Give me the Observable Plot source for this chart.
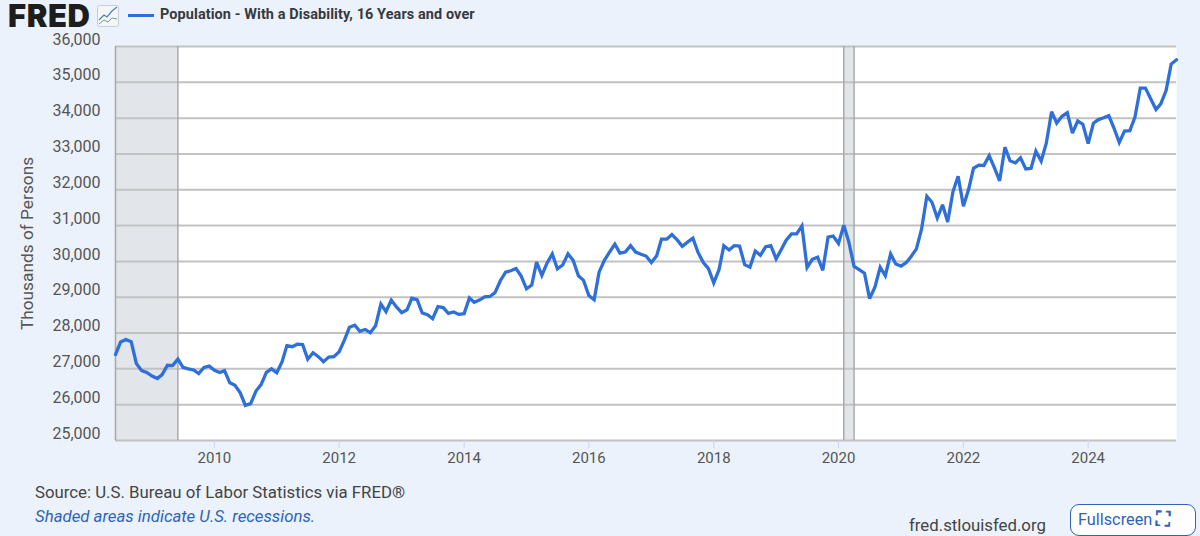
<!DOCTYPE html>
<html>
<head>
<meta charset="utf-8">
<script src="https://cdn.jsdelivr.net/npm/d3@7"></script>
<script src="https://cdn.jsdelivr.net/npm/@observablehq/plot@0.6"></script>
<style>
html,body{margin:0;padding:0;background:#ebf2fb;width:1200px;height:536px;overflow:hidden;font-family:Roboto,sans-serif}
#page{position:relative;width:1200px;height:536px}
#chart{position:absolute;left:0;top:30px}
#chart svg{display:block;background:transparent}
.abs{position:absolute;white-space:nowrap}
#logo{left:8px;top:2px;font:900 31px/28px Inter,Roboto,sans-serif;color:#1d1d1d;letter-spacing:.6px}
#icon{left:97px;top:5px;width:22px;height:22px}
#swatch{left:128px;top:14px;width:26px;height:3px;background:#2e6fd9}
#legend{left:160px;top:6px;font:700 14.45px/18px Roboto,sans-serif;color:#36393f;letter-spacing:.1px}
#source{left:35px;top:482px;font:400 16.8px/20px Roboto,sans-serif;color:#444}
#note{left:35px;top:506px;font:italic 400 16.8px/20px Roboto,sans-serif;color:#2f63b8}
#site{left:909px;top:515px;font:400 16.8px/20px Roboto,sans-serif;color:#444}
#full{left:1070px;top:504px;width:126px;height:32px;box-sizing:border-box;border:1.5px solid #2f63b8;border-radius:9px;background:#fff;color:#2f63b8;font:400 16.3px/29px Roboto,sans-serif;padding-left:7px}
</style>
</head>
<body>
<div id="page">
  <div id="chart"></div>
  <div class="abs" id="logo">FRED</div>
  <svg class="abs" id="icon" viewBox="0 0 22 22"><rect x=".5" y=".5" width="21" height="21" rx="2" fill="#f4f6fa" stroke="#c9ccd2"/><polyline points="2,15 7,10 10,12 15,6 20,2" fill="none" stroke="#4f7fc9" stroke-width="1.2"/><polyline points="2,19 7,15 11,17 15,13 20,14" fill="none" stroke="#6fa08c" stroke-width="1"/></svg>
  <div class="abs" id="swatch"></div>
  <div class="abs" id="legend">Population - With a Disability, 16 Years and over</div>
  <div class="abs" id="source">Source: U.S. Bureau of Labor Statistics via FRED®</div>
  <div class="abs" id="note">Shaded areas indicate U.S. recessions.</div>
  <div class="abs" id="site">fred.stlouisfed.org</div>
  <div class="abs" id="full">Fullscreen <span style="font-size:20px;font-weight:700;vertical-align:-1px;line-height:20px">⛶</span></div>
</div>
<script>
const firstMonth = "2008-06-01";
const lastMonth = "2025-06-01";
const seriesValues = [
27400,27750,27820,27760,27150,26950,26900,26800,26730,26840,
27100,27090,27270,27040,27000,26970,26870,27040,27080,26960,
26900,26950,26610,26540,26330,25980,26030,26380,26560,26900,
27000,26890,27200,27650,27620,27690,27680,27270,27450,27340,
27200,27330,27340,27480,27810,28160,28220,28050,28100,28010,
28200,28810,28600,28920,28730,28570,28650,28970,28930,28560,
28510,28400,28740,28710,28550,28590,28520,28540,28980,28860,
28920,29010,29020,29130,29460,29700,29740,29800,29590,29235,
29340,29980,29610,29950,30210,29790,29900,30210,30030,29600,
29470,29050,28930,29700,30030,30260,30480,30230,30260,30440,
30260,30200,30150,29970,30160,30620,30620,30750,30600,30420,
30540,30650,30250,29970,29800,29400,29770,30440,30320,30440,
30430,29910,29840,30290,30170,30410,30440,30070,30340,30590,
30770,30770,30990,29830,30060,30120,29750,30680,30710,30500,
31010,30550,29860,29770,29670,28960,29280,29840,29600,30210,
29930,29870,29970,30140,30350,30900,31820,31650,31210,31580,
31100,31950,32380,31540,32020,32600,32690,32680,32950,32620,
32250,33190,32810,32750,32890,32580,32600,33080,32800,33300,
34180,33860,34050,34150,33580,33920,33830,33290,33860,33960,
34010,34070,33710,33320,33640,33650,34030,34840,34840,34540,
34240,34400,34770,35510,35630];
const recessionStarts = ["2007-12-01","2020-02-01"];
const recessionEnds = ["2009-06-01","2020-04-01"];
const yTicks = [25000,26000,27000,28000,29000,30000,31000,32000,33000,34000,35000,36000];
const xTickYears = [2010,2012,2014,2016,2018,2020,2022,2024];

const start = new Date(firstMonth + "T00:00Z");
const end = new Date(lastMonth + "T00:00Z");
const rows = seriesValues.map((v,i)=>({date:d3.utcMonth.offset(start,i),value:v}));
const recessions = recessionStarts.map((s,i)=>({
  x1:new Date(s+"T00:00Z"), x2:new Date(recessionEnds[i]+"T00:00Z")
}));
const edges = [start, ...recessions.flatMap(r=>r.x1<start?[r.x2]:[r.x1,r.x2])];
const xTicks = xTickYears.map(y=>new Date(Date.UTC(y,0,1)));

const chart = Plot.plot({
  width:1200, height:440,
  marginLeft:115, marginRight:24, marginTop:16, marginBottom:30,
  style:{background:"transparent",color:"#555",fontFamily:"Roboto,sans-serif",fontSize:"16px",overflow:"visible"},
  x:{type:"utc",domain:[start,end]},
  y:{domain:[25000,36000]},
  marks:[
    Plot.frame({fill:"#fff",stroke:null}),
    Plot.rectX(recessions,{x1:"x1",x2:"x2",y1:25000,y2:36000,fill:"#e2e5e9",clip:true}),
    Plot.ruleY(yTicks,{stroke:"#c2c2c2",strokeWidth:2}),
    Plot.ruleX(edges,{stroke:"#a9a9a9",strokeWidth:1.5}),
    Plot.axisX({ticks:xTicks,tickFormat:d3.utcFormat("%Y"),tickSize:8,tickPadding:4,stroke:"#ccd6eb",fontSize:15,label:null,fill:"#555"}),
    Plot.axisY({ticks:yTicks,tickFormat:d3.format(","),tickSize:0,tickPadding:15,dy:-7,fontSize:16,label:null,fill:"#555"}),
    Plot.text(["Thousands of Persons"],{frameAnchor:"left",textAnchor:"middle",dx:-88,dy:0,rotate:-90,fontSize:17.3,fill:"#555",lineAnchor:"middle"}),
    Plot.lineY(rows,{x:"date",y:"value",stroke:"#2e6fd9",strokeWidth:3.3,strokeLinejoin:"miter",strokeMiterlimit:3})
  ]
});
document.getElementById("chart").appendChild(chart);
</script>
</body>
</html>
